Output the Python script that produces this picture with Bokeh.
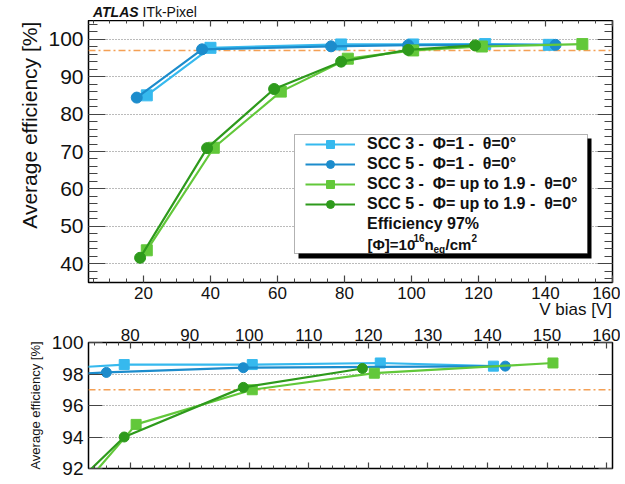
from bokeh.plotting import figure
from bokeh.models import (Range1d, LinearAxis, SingleIntervalTicker, Span, Legend,
                          LegendItem, BoxAnnotation, Label, Div)
from bokeh.layouts import column
from bokeh.embed import file_html
from bokeh.resources import INLINE

FONT = "Liberation Sans"

# ---------------- data ----------------
v_scc3_phi1 = [21, 40, 79, 100.5, 122, 141]
e_scc3_phi1 = [85.0, 97.7, 98.6, 98.6, 98.7, 98.5]

v_scc5_phi1 = [18, 37.5, 76, 99, 143]
e_scc5_phi1 = [84.4, 97.3, 98.1, 98.4, 98.5]

v_scc3_up = [21, 41, 61, 81, 100.5, 121, 151]
e_scc3_up = [43.6, 71.0, 86.0, 94.8, 97.0, 98.05, 98.7]

v_scc5_up = [19, 39, 59, 79, 99, 119]
e_scc5_up = [41.6, 70.9, 86.7, 94.0, 97.15, 98.35]

labels = ["SCC 3 -  \u03a6=1 -  \u03b8=0\u00b0",
          "SCC 5 -  \u03a6=1 -  \u03b8=0\u00b0",
          "SCC 3 -  \u03a6= up to 1.9 -  \u03b8=0\u00b0",
          "SCC 5 -  \u03a6= up to 1.9 -  \u03b8=0\u00b0"]
threshold = 97
threshold_label = "Efficiency 97%"
x_title = "V bias [V]"
y_title = "Average efficiency [%]"

C_LB = "#36b9ee"
C_DB = "#1c8ccc"
C_LG = "#62c83a"
C_DG = "#2e9a1c"
C_OR = "#f4a055"

series = [
    (labels[0], v_scc3_phi1, e_scc3_phi1, C_LB, "square"),
    (labels[1], v_scc5_phi1, e_scc5_phi1, C_DB, "circle"),
    (labels[2], v_scc3_up, e_scc3_up, C_LG, "square"),
    (labels[3], v_scc5_up, e_scc5_up, C_DG, "circle"),
]

# ---------------- geometry (page pixels, origin top-left) ----------------
FL, FR = 88, 8
FW = 524
W = FL + FW + FR

HEAD = 20                 # title strip above the top panel
TX0, TX1, TY0, TY1 = 3.6, 160, 35, 105
T_TOP, T_FH, T_BOT = 0, 262, 24
T_H = T_TOP + T_FH + T_BOT
XLAB = 12                 # strip holding the x-axis title

BX0, BX1, BY0, BY1 = 73, 161, 92, 100
B_TOP, B_FH, B_BOT = 24, 126, 14
B_H = B_TOP + B_FH + B_BOT

# page pixel -> top-panel data coordinates (frame at x 88..612, y 20..282)
def tx(px):
    return TX0 + (px - 88) * (TX1 - TX0) / FW

def ty(py):
    return TY1 - (py - 20) * (TY1 - TY0) / T_FH


def style_axis(ax, major_in, minor_in, size, show=True, standoff=5):
    ax.axis_line_color = None
    ax.major_tick_out = 0
    ax.minor_tick_out = 0
    ax.major_tick_in = major_in
    ax.minor_tick_in = minor_in
    ax.major_tick_line_color = "#444444"
    ax.minor_tick_line_color = "#444444"
    ax.major_tick_line_width = 1.2
    ax.minor_tick_line_width = 1
    ax.major_label_text_font = FONT
    if show:
        ax.major_label_text_color = "#111111"
        ax.major_label_text_font_size = size
        ax.major_label_standoff = standoff
    else:
        ax.major_label_text_color = None
        ax.major_label_text_font_size = "1px"
        ax.major_label_standoff = 0


def make_fig(h, x0, x1, y0, y1, btop, bbot):
    p = figure(width=W, height=h, x_range=Range1d(x0, x1), y_range=Range1d(y0, y1),
               output_backend="svg", toolbar_location=None,
               min_border_left=FL, min_border_right=FR,
               min_border_top=btop, min_border_bottom=bbot,
               x_axis_location=None, y_axis_location=None)
    p.outline_line_color = "black"
    p.outline_line_width = 1.5
    p.background_fill_color = "white"
    p.border_fill_color = "white"
    p.xgrid.visible = False
    return p

# ================= header =================
head = Div(text=('<div style="padding:4px 0 0 93px; font-family:\'Liberation Sans\'; '
                 'font-size:14px; line-height:16px; color:#111; white-space:nowrap;">'
                 '<span style="font-weight:bold; font-style:italic;">ATLAS</span>'
                 '&nbsp;ITk-Pixel</div>'),
           width=W, height=HEAD, margin=(0, 0, 0, 0))

# ================= top panel =================
top = make_fig(T_H, TX0, TX1, TY0, TY1, T_TOP, T_BOT)

xt = SingleIntervalTicker(interval=20, num_minor_ticks=4)
yt = SingleIntervalTicker(interval=10, num_minor_ticks=5)

ax_b = LinearAxis(ticker=xt)
style_axis(ax_b, 7, 4, "17px", True, 4)
ax_t = LinearAxis(ticker=xt)
style_axis(ax_t, 6, 3, "1px", False)
ax_l = LinearAxis(ticker=yt)
style_axis(ax_l, 17, 9, "21px", True, 5)
# leading no-break spaces push the (centred) title to the top of the axis
ax_l.axis_label = "\u00a0" * 9 + y_title
ax_l.axis_label_text_font = FONT
ax_l.axis_label_text_font_size = "21px"
ax_l.axis_label_text_font_style = "normal"
ax_l.axis_label_text_color = "#111111"
ax_l.axis_label_standoff = 4
ax_r = LinearAxis(ticker=yt)
style_axis(ax_r, 15, 8, "1px", False)
top.add_layout(ax_b, "below")
top.add_layout(ax_t, "above")
top.add_layout(ax_l, "left")
top.add_layout(ax_r, "right")

top.ygrid.ticker = yt
top.ygrid.grid_line_color = "#777777"
top.ygrid.grid_line_dash = "1 2"
top.ygrid.grid_line_width = 1

top.add_layout(Span(location=threshold, dimension="width", line_color=C_OR,
                    line_width=1.6, line_dash="7 3 2 3", level="underlay"))
thr_dummy = top.line([], [], line_color=C_OR, line_width=1.6, line_dash="7 3 2 3")

items = []
for name, v, e, col, mk in series:
    lr = top.line(v, e, line_color=col, line_width=2.2)
    sr = top.scatter(v, e, marker=mk, size=11, fill_color=col, line_color=col)
    items.append(LegendItem(label=name, renderers=[lr, sr]))
items.append(LegendItem(label=threshold_label, renderers=[thr_dummy]))

# legend frame + shadow
top.add_layout(BoxAnnotation(left=tx(298), right=tx(591), top=ty(138), bottom=ty(258),
                             fill_color="black", fill_alpha=1, line_color=None))
top.add_layout(BoxAnnotation(left=tx(294), right=tx(587), top=ty(134), bottom=ty(253),
                             fill_color="white", fill_alpha=1, line_color="black",
                             line_width=1))

legend = Legend(items=items, location=(217, 48), orientation="vertical",
                padding=0, spacing=0, margin=0, glyph_width=50, glyph_height=20,
                label_height=20, label_standoff=12, label_text_font=FONT,
                label_text_font_size="16px", label_text_font_style="bold",
                label_text_color="#111111",
                background_fill_alpha=0, border_line_color=None)
top.add_layout(legend)

# units line of the legend: [Phi]=10^16 n_eq/cm^2
def add_txt(p, x, y, t, size, style="bold"):
    p.add_layout(Label(x=x, y=y, text=t, text_font=FONT, text_font_size=size,
                       text_font_style=style, text_baseline="middle", text_align="left",
                       text_color="#111111"))

add_txt(top, tx(367), ty(244), "[\u03a6]=10", "15px")
add_txt(top, tx(413), ty(237), "16", "10px")
add_txt(top, tx(424), ty(244), "n", "15px")
add_txt(top, tx(433), ty(249), "eq", "10px")
add_txt(top, tx(445), ty(244), "/cm", "15px")
add_txt(top, tx(471), ty(237), "2", "10px")

# ================= x-axis title strip =================
xlab = Div(text=('<div style="position:relative; top:-5px; width:%dpx; text-align:right; '
                 'font-family:\'Liberation Sans\'; font-size:17px; '
                 'line-height:18px; color:#111; white-space:nowrap;">%s</div>'
                 % (FL + FW, x_title)),
           width=W, height=XLAB, margin=(0, 0, 0, 0))

# ================= bottom panel =================
bot = make_fig(B_H, BX0, BX1, BY0, BY1, B_TOP, B_BOT)

bxt = SingleIntervalTicker(interval=10, num_minor_ticks=5)
byt = SingleIntervalTicker(interval=2, num_minor_ticks=0)

bax_t = LinearAxis(ticker=bxt)
style_axis(bax_t, 6, 3, "17px", True, 2)
bax_b = LinearAxis(ticker=bxt)
style_axis(bax_b, 6, 3, "1px", False)
bax_l = LinearAxis(ticker=byt)
style_axis(bax_l, 14, 0, "19px", True, 5)
bax_l.axis_label = y_title
bax_l.axis_label_text_font = FONT
bax_l.axis_label_text_font_size = "13px"
bax_l.axis_label_text_font_style = "normal"
bax_l.axis_label_text_color = "#111111"
bax_l.axis_label_standoff = 6
bax_r = LinearAxis(ticker=byt)
style_axis(bax_r, 14, 0, "1px", False)
bot.add_layout(bax_t, "above")
bot.add_layout(bax_b, "below")
bot.add_layout(bax_l, "left")
bot.add_layout(bax_r, "right")

bot.ygrid.ticker = byt
bot.ygrid.grid_line_color = "#777777"
bot.ygrid.grid_line_dash = "1 2"
bot.ygrid.grid_line_width = 1

bot.add_layout(Span(location=threshold, dimension="width", line_color=C_OR,
                    line_width=1.6, line_dash="7 3 2 3", level="underlay"))
for name, v, e, col, mk in series:
    bot.line(v, e, line_color=col, line_width=2.2)
    bot.scatter(v, e, marker=mk, size=10, fill_color=col, line_color=col)

layout = column(head, top, xlab, bot, spacing=0)
open("out.html", "w").write(file_html(layout, INLINE))
